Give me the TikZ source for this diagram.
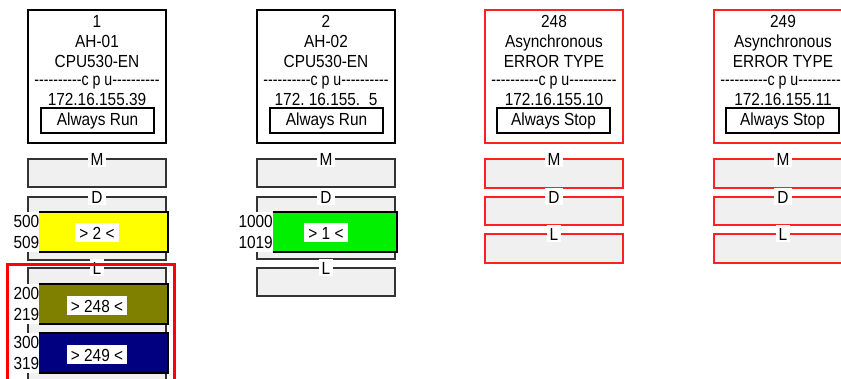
\documentclass[tikz,border=0pt]{standalone}
\usepackage{fontspec}
\setmainfont{Liberation Sans}[FakeStretch=0.88]
\definecolor{boxgray}{HTML}{F0F0F0}
\definecolor{baryellow}{HTML}{FFFF00}
\definecolor{bargreen}{HTML}{00F000}
\definecolor{barolive}{HTML}{808000}
\definecolor{barnavy}{HTML}{000080}
\definecolor{errred}{HTML}{FF2020}
\newcommand{\tenhy}{-\kern0pt-\kern0pt-\kern0pt-\kern0pt-\kern0pt-\kern0pt-\kern0pt-\kern0pt-\kern0pt-}
\newcommand{\cpuline}{\scalebox{0.92}[1]{\tenhy c p u\tenhy}}
\tikzset{
  hdr/.style={draw=black, line width=1.3pt, fill=white, minimum width=138pt, minimum height=133pt, inner sep=0pt},
  hdrerr/.style={hdr, draw=errred},
  txt/.style={inner sep=0pt, anchor=base},
  runbox/.style={draw=black, line width=1.1pt, minimum width=113pt, minimum height=25pt, inner sep=0pt},
  area/.style={draw=black!80, line width=1.1pt, fill=boxgray, minimum width=138pt, inner sep=0pt},
  areaerr/.style={area, draw=errred, line width=1.3pt},
  tag/.style={fill=white, inner xsep=3pt, inner ysep=0pt, minimum height=17pt},
  bartag/.style={fill=white, inner xsep=4pt, inner ysep=0pt, minimum height=19pt},
  num/.style={fill=white, anchor=east, inner sep=0pt, align=right, minimum height=40pt, font=\fontsize{17.5}{21.5}\selectfont},
  barline/.style={draw=black, line width=1.1pt}
}
\begin{document}
\begin{tikzpicture}[x=1pt, y=-1pt, font=\fontsize{17.5}{20}\selectfont]
\clip (0,0) rectangle (841,379);
\fill[white] (0,0) rectangle (841,379);

% ---------- column 1 ----------
\node[hdr] (h1) at (97,76.5) {};
\node[txt] (h1a) at (97,28) {1};
\node[txt] (h1b) at (97,48) {AH-01};
\node[txt] (h1c) at (97,67.5) {CPU530-EN};
\node[txt] (h1d) at (97,86) {\cpuline};
\node[txt] (h1e) at (97,105.5) {172.16.155.39};
\node[runbox] (r1) at (97.5,120.5) {Always Run};
\node[area, minimum height=28pt] (m1) at (97,173) {};
\node[tag] (m1t) at (97,159) {M};
\node[area, minimum height=63pt] (d1) at (97,228.5) {};
\node[tag] (d1t) at (97,197) {D};
\fill[baryellow] (39,212) rectangle (168,252);
\draw[barline] (39,212) -- (168,212) -- (168,252) -- (39,252);
\node[num] (n1) at (39.5,232) {500\\509};
\node[bartag] (b1) at (97,233) {> 2 <};
\node[area, minimum height=132pt] (l1) at (97,334) {};
\node[tag] (l1t) at (97,268) {L};
\fill[barolive] (39,284) rectangle (168,324);
\draw[barline] (39,284) -- (168,284) -- (168,324) -- (39,324);
\node[num] (n2) at (39.5,304) {200\\219};
\node[bartag] (b2) at (97,306) {> 248 <};
\fill[barnavy] (39,333) rectangle (168,373);
\draw[barline] (39,333) -- (168,333) -- (168,373) -- (39,373);
\node[num] (n3) at (39.5,353) {300\\319};
\node[bartag] (b3) at (97,355) {> 249 <};
\draw[red, line width=2.5pt] (7.5,264.5) rectangle (174.5,400);

% ---------- column 2 ----------
\node[hdr] (h2) at (326,76.5) {};
\node[txt] (h2a) at (326,28) {2};
\node[txt] (h2b) at (326,48) {AH-02};
\node[txt] (h2c) at (326,67.5) {CPU530-EN};
\node[txt] (h2d) at (326,86) {\cpuline};
\node[txt] (h2e) at (326,105.5) {172.\ 16.155.\ \ 5};
\node[runbox] (r2) at (326.5,120.5) {Always Run};
\node[area, minimum height=28pt] (m2) at (326,173) {};
\node[tag] (m2t) at (326,159) {M};
\node[area, minimum height=62pt] (d2) at (326,228) {};
\node[tag] (d2t) at (326,197) {D};
\fill[bargreen] (273,212) rectangle (397,252);
\draw[barline] (273,212) -- (397,212) -- (397,252) -- (273,252);
\node[num] (n4) at (273,232) {1000\\1019};
\node[bartag] (b4) at (326,233) {> 1 <};
\node[area, minimum height=28pt] (l2) at (326,282) {};
\node[tag] (l2t) at (326,268) {L};

% ---------- column 3 ----------
\node[hdrerr] (h3) at (554,76.5) {};
\node[txt] (h3a) at (554,28) {248};
\node[txt] (h3b) at (554,48) {Asynchronous};
\node[txt] (h3c) at (554,67.5) {ERROR TYPE};
\node[txt] (h3d) at (554,86) {\cpuline};
\node[txt] (h3e) at (554,105.5) {172.16.155.10};
\node[runbox] (r3) at (553.5,120.5) {Always Stop};
\node[areaerr, minimum height=29pt] (m3) at (554,173.5) {};
\node[tag] (m3t) at (554,159) {M};
\node[areaerr, minimum height=28pt] (d3) at (554,211) {};
\node[tag] (d3t) at (554,197) {D};
\node[areaerr, minimum height=29pt] (l3) at (554,248.5) {};
\node[tag] (l3t) at (554,234) {L};

% ---------- column 4 ----------
\node[hdrerr] (h4) at (783,76.5) {};
\node[txt] (h4a) at (783,28) {249};
\node[txt] (h4b) at (783,48) {Asynchronous};
\node[txt] (h4c) at (783,67.5) {ERROR TYPE};
\node[txt] (h4d) at (783,86) {\cpuline};
\node[txt] (h4e) at (783,105.5) {172.16.155.11};
\node[runbox] (r4) at (782.5,120.5) {Always Stop};
\node[areaerr, minimum height=29pt] (m4) at (783,173.5) {};
\node[tag] (m4t) at (783,159) {M};
\node[areaerr, minimum height=28pt] (d4) at (783,211) {};
\node[tag] (d4t) at (783,197) {D};
\node[areaerr, minimum height=29pt] (l4) at (783,248.5) {};
\node[tag] (l4t) at (783,234) {L};
\end{tikzpicture}
\end{document}
